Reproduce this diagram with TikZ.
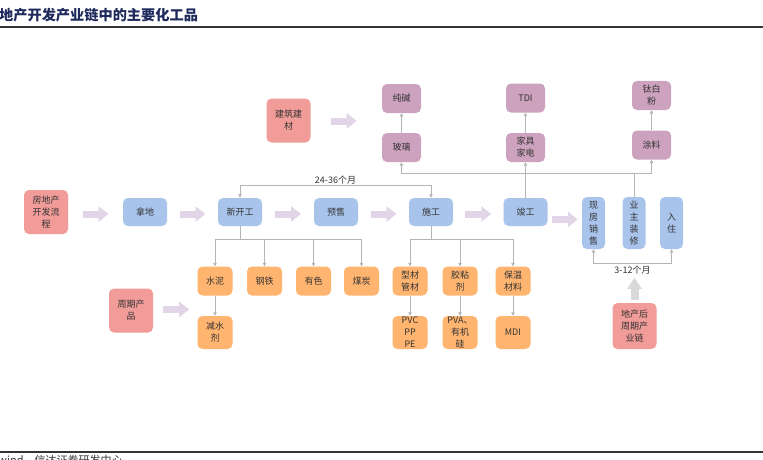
\documentclass[tikz,border=0pt]{standalone}
\usepackage{fontspec}
\setmainfont{Noto Sans CJK SC}
\usepackage{tikz}
\usetikzlibrary{arrows.meta,positioning,calc}
\definecolor{ChainPink}{HTML}{F19C99}
\definecolor{ChainBlue}{HTML}{A9C4EB}
\definecolor{ChainPurple}{HTML}{CDA2BE}
\definecolor{ChainOrange}{HTML}{FFB570}
\definecolor{ChainArrow}{HTML}{E1D5E7}
\definecolor{ChainGrey}{HTML}{D9D9D9}
\definecolor{ChainLine}{HTML}{B5B5B5}
\definecolor{ChainTitle}{HTML}{1F2A5C}
\definecolor{ChainText}{HTML}{333333}

\begin{document}
\begin{tikzpicture}[x=1pt,y=-1pt,
  box/.style={rounded corners=5pt,inner sep=0pt,align=center,
    font={\fontsize{9}{12}\selectfont},text=ChainText},
  stage/.style={box,fill=ChainBlue,minimum width=44pt,minimum height=28pt},
  tallstage/.style={box,fill=ChainBlue,minimum width=23pt,minimum height=52pt},
  chem/.style={box,fill=ChainPurple,minimum width=39pt,minimum height=29pt},
  prod/.style={box,fill=ChainOrange,minimum width=35pt,minimum height=29pt},
  sub/.style={box,fill=ChainOrange,minimum width=35pt,minimum height=33pt},
  head/.style={box,fill=ChainPink,minimum width=44pt,minimum height=44pt},
  conn/.style={ChainLine,line width=0.8pt,>={Triangle[length=3.5pt,width=3.5pt]}},
  fatarr/.style={ChainArrow,line width=7pt,-{Triangle[length=10pt,width=15pt]}},
  uparr/.style={ChainGrey,line width=8pt,-{Triangle[length=11pt,width=14pt]}},
  span/.style={font={\fontsize{9}{11}\selectfont},text=ChainText,inner sep=1pt}]
  \useasboundingbox (0,0) rectangle (763,460);
  \clip (0,0) rectangle (763,460);
  \fill[white] (0,0) rectangle (763,460);

  \node[anchor=west,font={\fontsize{14.2}{16}\selectfont\bfseries},text=ChainTitle,inner sep=0pt]
    (title) at (-1,15) {地产开发产业链中的主要化工品};
  \draw[ChainText,line width=1.3pt] (0,27) -- (763,27);
  \draw[ChainText,line width=1.3pt] (0,452) -- (763,452);
  \node[anchor=north west,font={\fontsize{11}{13}\selectfont},text=ChainText,inner sep=0pt]
    (source) at (-2,455) {wind，信达证券研发中心};

  \node[head] (fdc) at (46,212) {房地产\\开发流\\程};
  \node[stage] (nd) at (145,212) {拿地};
  \node[stage] (xkg) at (240,212) {新开工};
  \node[stage] (ys) at (336,212) {预售};
  \node[stage] (sg) at (431,212) {施工};
  \node[stage] (jg) at (525.5,212) {竣工};
  \node[tallstage] (xf) at (593.5,223) {现\\房\\销\\售};
  \node[tallstage] (yz) at (634,223) {业\\主\\装\\修};
  \node[tallstage] (rz) at (671.5,223) {入\\住};

  \node[head] (jzjc) at (288.5,120.5) {建筑建\\材};
  \node[chem] (cj) at (401.5,98.5) {纯碱};
  \node[chem] (bl) at (401.5,147.5) {玻璃};
  \node[chem] (tdi) at (525.5,98) {TDI};
  \node[chem] (jj) at (525.5,147.5) {家具\\家电};
  \node[chem] (tbf) at (651.5,95.5) {钛白\\粉};
  \node[chem] (tl) at (651.5,145) {涂料};

  \node[head] (zqcp) at (131,310.5) {周期产\\品};
  \node[prod] (sn) at (215,281) {水泥};
  \node[prod] (gt) at (264.5,281) {钢铁};
  \node[prod] (yse) at (313.5,281) {有色};
  \node[prod] (mt) at (361.5,281) {煤炭};
  \node[prod] (xc) at (410,281) {型材\\管材};
  \node[prod] (jn) at (460,281) {胶粘\\剂};
  \node[prod] (bw) at (513,281) {保温\\材料};
  \node[sub] (jsj) at (215,332.5) {减水\\剂};
  \node[sub] (pvc) at (410,332.5) {PVC\\PP\\PE};
  \node[sub] (pva) at (460,332.5) {PVA、\\有机\\硅};
  \node[sub] (mdi) at (513,332.5) {MDI};
  \node[head,minimum height=46pt] (dch) at (634.5,326) {地产后\\周期产\\业链};

  \foreach \a/\b in {fdc/nd,nd/xkg,xkg/ys,ys/sg,sg/jg,jg/xf}
    \draw[fatarr] ($($(\a.east)!.5!(\b.west)$ |- nd)+(-13,2)$) -- +(26,0);
  \draw[fatarr] ($(jzjc.east)+(20,0.5)$) -- +(26,0);
  \draw[fatarr] ($(zqcp.east)+(10,-1)$) -- +(26,0);

  \draw[conn,<->] (xkg.north) -- ++(0,-12) -| node[pos=0.25,above,span] (t2436) {24-36个月} (sg.north);
  \draw[conn,<->] (xf.south) -- ++(0,14) -| node[pos=0.25,below=1.5pt,span] (t312) {3-12个月} (rz.south);
  \draw[uparr] ($(dch.north)+(0,-3)$) -- ($(dch.north)+(0,-25)$);

  \draw[conn] (xkg.south) -- ++(0,13) coordinate (xkgbr);
  \foreach \n in {sn,gt,yse,mt}
    \draw[conn,->] (xkgbr) -| (\n.north);
  \draw[conn] (sg.south) -- ++(0,13) coordinate (sgbr);
  \foreach \n in {xc,jn,bw}
    \draw[conn,->] (sgbr) -| (\n.north);
  \foreach \a/\b in {sn/jsj,xc/pvc,jn/pva,bw/mdi,bl/cj,jj/tdi,tl/tbf,jg/jj}
    \draw[conn,->] (\a) -- (\b);
  \draw[conn] (yz.north) -- ++(0,-23) coordinate (yzbr);
  \draw[conn,->] (yzbr) -| (bl.south);
  \draw[conn,->] (yzbr) -| (tl.south);
\end{tikzpicture}
\end{document}
